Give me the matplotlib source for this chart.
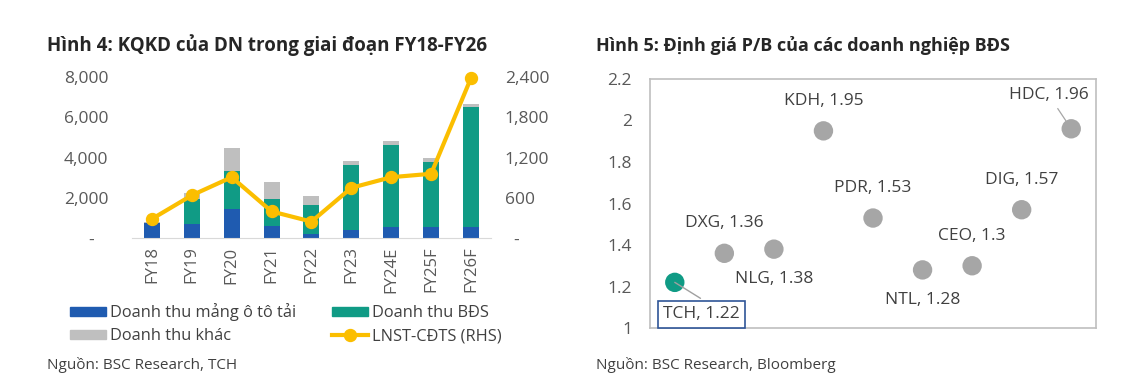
import matplotlib
matplotlib.use('Agg')
import matplotlib.pyplot as plt
from matplotlib.patches import Patch
from matplotlib.lines import Line2D
import numpy as np

plt.rcParams['font.family'] = ['Open Sans', 'DejaVu Sans']

# --- Hinh 4 data ---
years = ['FY18', 'FY19', 'FY20', 'FY21', 'FY22', 'FY23', 'FY24E', 'FY25F', 'FY26F']
rev_truck = [750, 680, 1430, 610, 220, 410, 530, 560, 560]
rev_bds = [0, 1240, 1880, 1340, 1410, 3240, 4110, 3240, 5930]
rev_other = [30, 300, 1140, 820, 460, 170, 200, 190, 170]
lnst = [285, 637, 907, 397, 245, 749, 907, 958, 2385]
left_ticks = [0, 2000, 4000, 6000, 8000]
left_labels = ['-   ', '2,000', '4,000', '6,000', '8,000']
right_ticks = [0, 600, 1200, 1800, 2400]
right_labels = ['  -', '600', '1,200', '1,800', '2,400']

# --- Hinh 5 data ---
tickers = ['TCH', 'DXG', 'NLG', 'KDH', 'PDR', 'NTL', 'CEO', 'DIG', 'HDC']
pb = [1.22, 1.36, 1.38, 1.95, 1.53, 1.28, 1.30, 1.57, 1.96]
pb_labels = ['1.22', '1.36', '1.38', '1.95', '1.53', '1.28', '1.3', '1.57', '1.96']

BLUE = '#1f5bb0'
GREEN = '#109b85'
GRAY = '#bfbfbf'
YELLOW = '#fbbe00'
TXT = '#404040'
TICK = '#595959'

fig = plt.figure(figsize=(11.24, 3.84), dpi=100)
fig.set_facecolor('white')

# ---------------- left chart ----------------
ax = fig.add_axes([0.1174, 0.380, 0.3194, 0.4195])
x = np.arange(len(years))
w = 0.4
truck = np.array(rev_truck)
bds = np.array(rev_bds)
other = np.array(rev_other)
ax.bar(x, truck, w, color=BLUE, linewidth=0)
ax.bar(x, bds, w, bottom=truck, color=GREEN, linewidth=0)
ax.bar(x, other, w, bottom=truck + bds, color=GRAY, linewidth=0)
ax.set_xlim(-0.5, len(years) - 0.5)
ax.set_ylim(0, 8000)
ax.set_yticks(left_ticks)
ax.set_yticklabels(left_labels)
ax.set_xticks(x)
ax.set_xticklabels(years, rotation=90)
for s in ['top', 'right', 'left']:
    ax.spines[s].set_visible(False)
ax.spines['bottom'].set_color('#d9d9d9')
ax.tick_params(axis='y', length=0, labelsize=12.5, labelcolor=TICK, pad=17)
ax.tick_params(axis='x', length=0, labelsize=12, labelcolor=TICK, pad=6)

ax2 = ax.twinx()
ax2.plot(x, lnst, color=YELLOW, linewidth=3, marker='o', markersize=8.6, clip_on=False)
ax2.set_ylim(0, 2400)
ax2.set_yticks(right_ticks)
ax2.set_yticklabels(right_labels)
for s in ['top', 'right', 'left', 'bottom']:
    ax2.spines[s].set_visible(False)
ax2.tick_params(axis='y', length=0, labelsize=12.5, labelcolor=TICK, pad=10)

fig.text(0.042, 0.882, 'Hình 4: KQKD của DN trong giai đoạn FY18-FY26', fontsize=13.5,
         fontweight='bold', color='#262626', va='center')

handles = [Patch(color=BLUE), Patch(color=GRAY), Patch(color=GREEN),
           Line2D([], [], color=YELLOW, linewidth=3, marker='o', markersize=8.6)]
labels = ['Doanh thu mảng ô tô tải', 'Doanh thu khác', 'Doanh thu BĐS', 'LNST-CĐTS (RHS)']
fig.legend(handles, labels, ncol=2, loc='upper left', bbox_to_anchor=(0.0623, 0.210),
           frameon=False, fontsize=11.8, labelcolor=TXT, handlelength=2.2, handleheight=0.45,
           handletextpad=0.25, columnspacing=2.15, labelspacing=0.42, borderaxespad=0,
           borderpad=0)

fig.text(0.042, 0.050, 'Nguồn: BSC Research, TCH', fontsize=11, color=TXT, va='center')

# ---------------- right chart ----------------
bx = fig.add_axes([0.5783, 0.1458, 0.3968, 0.6485])
xs = np.arange(1, len(tickers) + 1)
colors = [GREEN] + ['#a6a6a6'] * (len(tickers) - 1)
bx.scatter(xs, pb, s=195, c=colors, linewidths=0, zorder=3)
bx.set_xlim(0.5, len(tickers) + 0.5)
bx.set_ylim(1, 2.2)
bx.set_yticks([1, 1.2, 1.4, 1.6, 1.8, 2, 2.2])
bx.set_yticklabels(['1', '1.2', '1.4', '1.6', '1.8', '2', '2.2'])
bx.set_xticks([])
for s in bx.spines.values():
    s.set_color('#bfbfbf')
    s.set_linewidth(1.2)
bx.tick_params(axis='y', length=0, labelsize=12.5, labelcolor=TICK, pad=13)

# label offsets in points (dx, dy)
offsets = {'TCH': (19.5, -23), 'DXG': (0, 21.5), 'NLG': (0, -21.5), 'KDH': (0, 21.5),
           'PDR': (0, 21.5), 'NTL': (0, -21.5), 'CEO': (0, 21.5), 'DIG': (0, 21.5),
           'HDC': (-16, 24)}
for xi, yi, t, lab in zip(xs, pb, tickers, pb_labels):
    dx, dy = offsets[t]
    kw = {}
    if t == 'TCH':
        kw['bbox'] = dict(boxstyle='square,pad=0.3', fc='white', ec='#2f5597', lw=1.2)
        # leader line from the marker centre to the label box
        bx.annotate('', (xi, yi), xytext=(18.5, -11.5), textcoords='offset points',
                    arrowprops=dict(arrowstyle='-', color='#a0a0a0', lw=1.0,
                                    shrinkA=0, shrinkB=0), zorder=5)
    if t == 'HDC':
        kw['arrowprops'] = dict(arrowstyle='-', color='#a6a6a6', lw=0.9, shrinkA=2, shrinkB=7)
    bx.annotate(f'{t}, {lab}', (xi, yi), xytext=(dx, dy), textcoords='offset points',
                ha='center', va='center', fontsize=12.5, color=TXT, zorder=4, **kw)

fig.text(0.530, 0.882, 'Hình 5: Định giá P/B của các doanh nghiệp BĐS', fontsize=13,
         fontweight='bold', color='#262626', va='center')
fig.text(0.530, 0.050, 'Nguồn: BSC Research, Bloomberg', fontsize=11, color=TXT, va='center')

fig.savefig('out.png', dpi=100)
